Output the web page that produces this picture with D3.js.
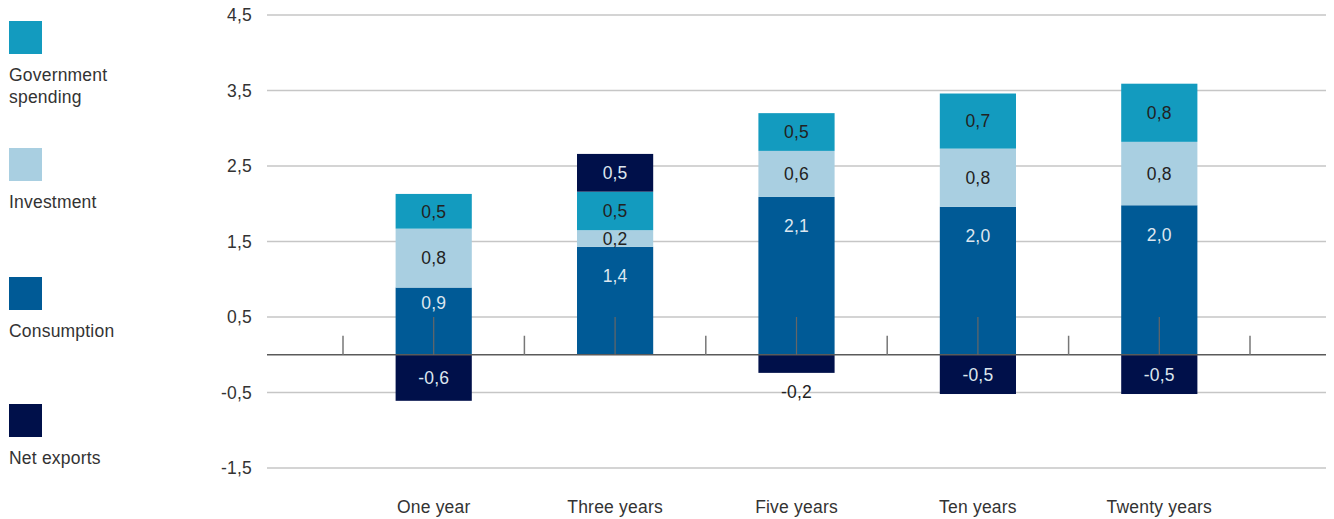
<!DOCTYPE html>
<html><head><meta charset="utf-8">
<script src="https://cdn.jsdelivr.net/npm/d3@7"></script>
<style>
html,body{margin:0;padding:0;background:#fff;}
text{font-family:"Liberation Sans",Arial,sans-serif;letter-spacing:0.2px;}
</style></head>
<body><svg id="chart" width="1334" height="519"></svg>
<script>
const categories = ["One year","Three years","Five years","Ten years","Twenty years"];
const seriesNames = ["Consumption","Investment","Government spending","Net exports"];
const consumption = [0.89, 1.43, 2.09, 1.96, 1.98];
const investment  = [0.78, 0.22, 0.61, 0.77, 0.84];
const government  = [0.46, 0.51, 0.50, 0.73, 0.77];
const netExports  = [-0.61, 0.50, -0.24, -0.52, -0.52];
const yTicks = [-1.5, -0.5, 0.5, 1.5, 2.5, 3.5, 4.5];
const legendLabels = [["Government","spending"],["Investment"],["Consumption"],["Net exports"]];

const colors = {"Consumption":"#005a96","Investment":"#a9cfe1","Government spending":"#139bbf","Net exports":"#00104a"};
const labelColors = {"Consumption":"#dde6ef","Investment":"#222","Government spending":"#222","Net exports":"#dde6ef"};

const locale = d3.formatLocale({decimal:",",thousands:".",grouping:[3],currency:["",""],minus:"-"});
const fmt = locale.format(".1f");
const FS = 17.5;

const svg = d3.select("#chart");
const x = d3.scaleBand().domain(categories).range([343,1250]).paddingInner(0).paddingOuter(0);
const y = d3.scaleLinear().domain([-1.5,4.5]).range([468,15]);
const barW = x.bandwidth()*0.42;

// gridlines
svg.append("g").selectAll("line").data(yTicks).join("line")
  .attr("x1",267).attr("x2",1326)
  .attr("y1",d=>y(d)).attr("y2",d=>y(d))
  .attr("stroke","#c6c6c6").attr("stroke-width",1.5);
// y labels
svg.append("g").selectAll("text").data(yTicks).join("text")
  .attr("x",252).attr("y",d=>y(d)).attr("dy","0.36em")
  .attr("text-anchor","end").attr("font-size",FS).attr("fill","#333")
  .text(d=>fmt(d));

// build segments
const data = categories.map((c,i)=>({cat:c, vals:{"Consumption":consumption[i],"Investment":investment[i],"Government spending":government[i],"Net exports":netExports[i]}}));
const segs = [];
data.forEach(d=>{
  let pos=0, neg=0;
  seriesNames.forEach(s=>{
    const v=d.vals[s];
    if(v>=0){segs.push({cat:d.cat,s,v,y0:pos,y1:pos+v});pos+=v;}
    else {segs.push({cat:d.cat,s,v,y0:neg+v,y1:neg});neg+=v;}
  });
});

svg.append("g").selectAll("rect").data(segs).join("rect")
  .attr("x",d=>x(d.cat)+x.bandwidth()/2-barW/2)
  .attr("width",barW)
  .attr("y",d=>y(d.y1))
  .attr("height",d=>y(d.y0)-y(d.y1))
  .attr("fill",d=>colors[d.s]);

// zero line
svg.append("line").attr("x1",267).attr("x2",1326).attr("y1",y(0)).attr("y2",y(0))
  .attr("stroke","#5a5a5a").attr("stroke-width",1.5);

// category ticks (boundaries) and center ticks
const bounds = categories.map(c=>x(c)).concat([x(categories[categories.length-1])+x.bandwidth()]);
svg.append("g").selectAll("line").data(bounds).join("line")
  .attr("x1",d=>d).attr("x2",d=>d).attr("y1",y(0)-19).attr("y2",y(0))
  .attr("stroke","#777").attr("stroke-width",1.5);
svg.append("g").selectAll("line").data(categories).join("line")
  .attr("x1",d=>x(d)+x.bandwidth()/2).attr("x2",d=>x(d)+x.bandwidth()/2)
  .attr("y1",y(0.5)).attr("y2",y(0))
  .attr("stroke","#666").attr("stroke-width",1.2);

// value labels
function labelY(d){
  if(d.v<0 && Math.abs(d.v)<0.3) return y(d.y0)+19;
  if(d.s==="Consumption"){
    const top=y(d.y1);
    return Math.min((top+y(0.5))/2, top+29);
  }
  return (y(d.y0)+y(d.y1))/2;
}
svg.append("g").selectAll("text").data(segs).join("text")
  .attr("x",d=>x(d.cat)+x.bandwidth()/2)
  .attr("y",labelY)
  .attr("dy","0.36em").attr("text-anchor","middle").attr("font-size",FS)
  .attr("fill",d=>(d.v<0 && Math.abs(d.v)<0.3)?"#222":labelColors[d.s])
  .text(d=>fmt(d.v));

// category labels
svg.append("g").selectAll("text").data(categories).join("text")
  .attr("x",d=>x(d)+x.bandwidth()/2).attr("y",513)
  .attr("text-anchor","middle").attr("font-size",FS).attr("fill","#333")
  .text(d=>d);

// legend
const legendSeries = ["Government spending","Investment","Consumption","Net exports"];
const legendTop = [21,148,277,404];
const lg = svg.append("g");
legendSeries.forEach((s,i)=>{
  lg.append("rect").attr("x",9).attr("y",legendTop[i]).attr("width",33).attr("height",33).attr("fill",colors[s]);
  legendLabels[i].forEach((t,j)=>{
    lg.append("text").attr("x",9).attr("y",legendTop[i]+60+j*22)
      .attr("font-size",FS).attr("fill","#333").text(t);
  });
});
</script></body></html>
